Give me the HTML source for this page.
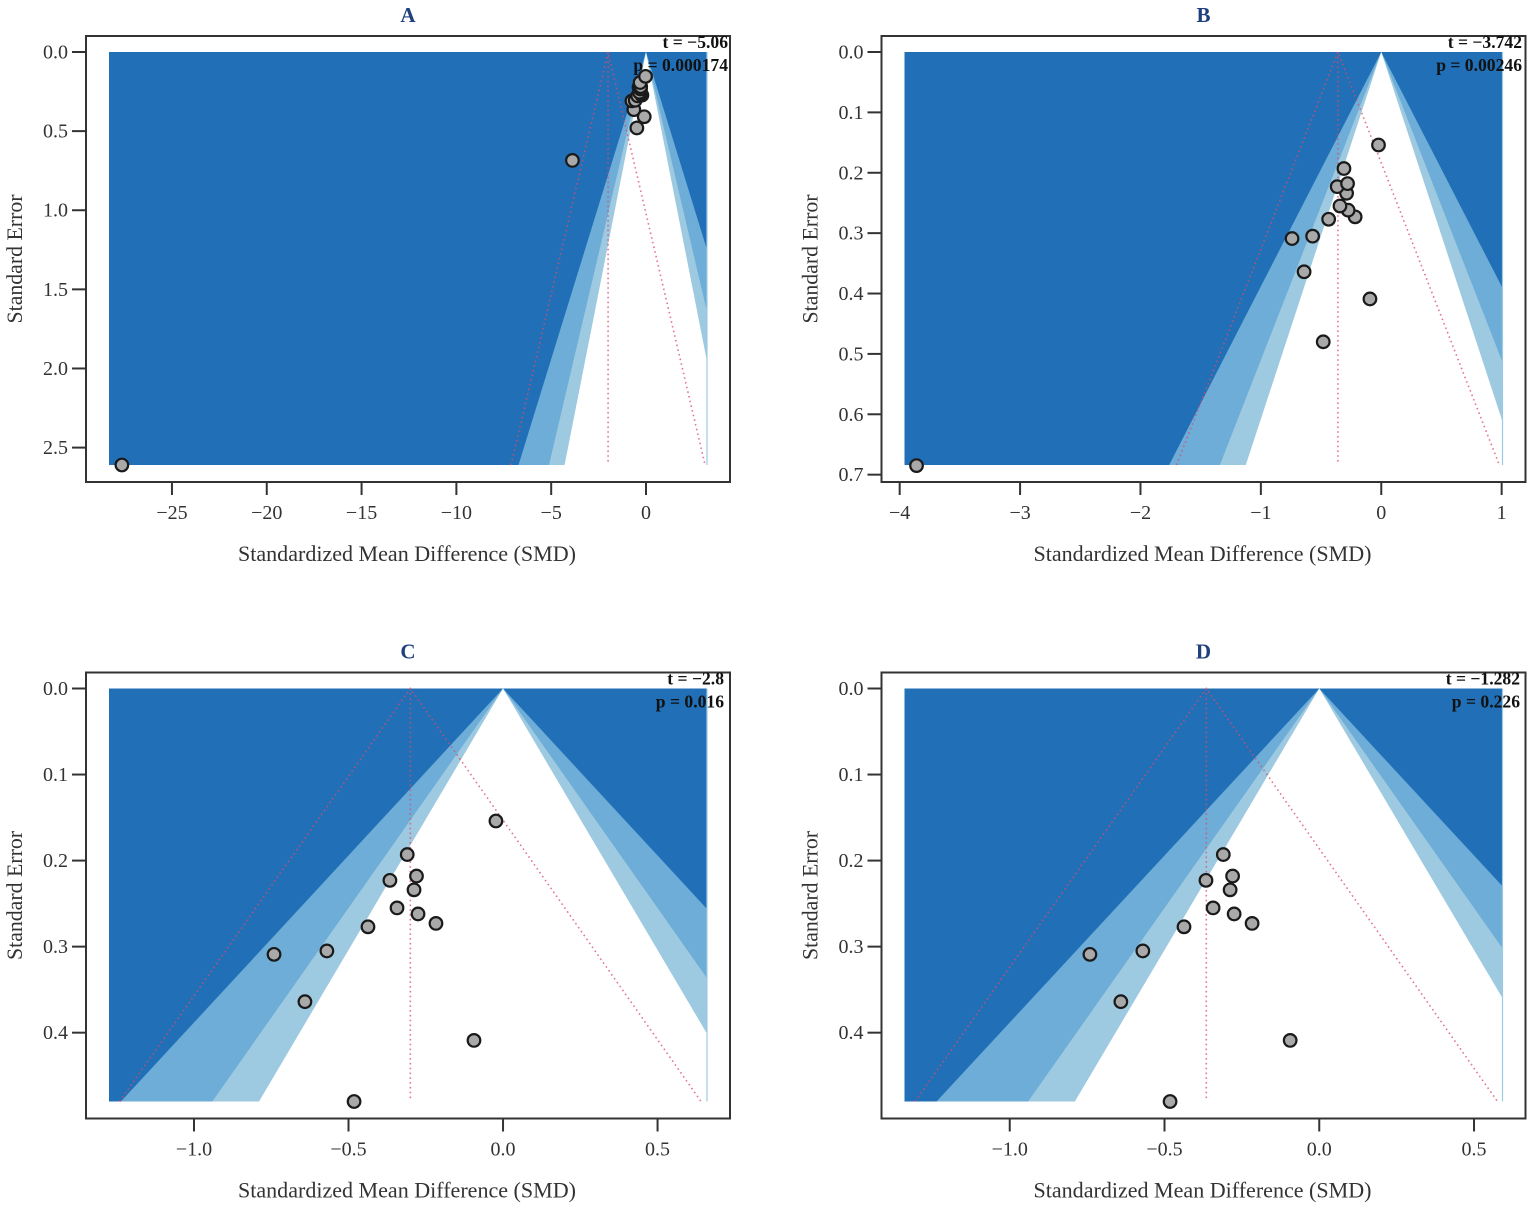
<!DOCTYPE html>
<html lang="en">
<head>
<meta charset="utf-8">
<title>Funnel plots A-D</title>
<style>
html,body{margin:0;padding:0;background:#fff;width:1535px;height:1209px;overflow:hidden}
svg{display:block}
text{font-family:"Liberation Serif",serif}
</style>
</head>
<body>
<svg id="figure" xmlns="http://www.w3.org/2000/svg" width="1535" height="1209" viewBox="0 0 1535 1209"></svg>
<script>
// ---- Chart data ----
const panelNames = ['A', 'B', 'C', 'D'];

const effectsA = [-27.64, -3.88, -0.482, -0.094, -0.641, -0.741, -0.57, -0.437, -0.217, -0.275, -0.343, -0.288, -0.366, -0.28, -0.31, -0.023];
const errorsA = [2.61, 0.685, 0.48, 0.409, 0.364, 0.309, 0.305, 0.277, 0.273, 0.262, 0.255, 0.234, 0.223, 0.218, 0.193, 0.154];

const effectsB = [-3.86, -0.482, -0.094, -0.641, -0.741, -0.57, -0.437, -0.217, -0.275, -0.343, -0.288, -0.366, -0.28, -0.31, -0.023];
const errorsB = [0.685, 0.48, 0.409, 0.364, 0.309, 0.305, 0.277, 0.273, 0.262, 0.255, 0.234, 0.223, 0.218, 0.193, 0.154];

const effectsC = [-0.482, -0.094, -0.641, -0.741, -0.57, -0.437, -0.217, -0.275, -0.343, -0.288, -0.366, -0.28, -0.31, -0.023];
const errorsC = [0.48, 0.409, 0.364, 0.309, 0.305, 0.277, 0.273, 0.262, 0.255, 0.234, 0.223, 0.218, 0.193, 0.154];

const effectsD = [-0.482, -0.094, -0.641, -0.741, -0.57, -0.437, -0.217, -0.275, -0.343, -0.288, -0.366, -0.28, -0.31];
const errorsD = [0.48, 0.409, 0.364, 0.309, 0.305, 0.277, 0.273, 0.262, 0.255, 0.234, 0.223, 0.218, 0.193];

const xTicksA = [-25, -20, -15, -10, -5, 0];
const xLabelsA = ['\u221225', '\u221220', '\u221215', '\u221210', '\u22125', '0'];
const yTicksA = [0, 0.5, 1, 1.5, 2, 2.5];
const yLabelsA = ['0.0', '0.5', '1.0', '1.5', '2.0', '2.5'];

const xTicksB = [-4, -3, -2, -1, 0, 1];
const xLabelsB = ['\u22124', '\u22123', '\u22122', '\u22121', '0', '1'];
const yTicksB = [0, 0.1, 0.2, 0.3, 0.4, 0.5, 0.6, 0.7];
const yLabelsB = ['0.0', '0.1', '0.2', '0.3', '0.4', '0.5', '0.6', '0.7'];

const xTicksCD = [-1, -0.5, 0, 0.5];
const xLabelsCD = ['\u22121.0', '\u22120.5', '0.0', '0.5'];
const yTicksCD = [0, 0.1, 0.2, 0.3, 0.4];
const yLabelsCD = ['0.0', '0.1', '0.2', '0.3', '0.4'];

const xDomainA = [-28.32, 3.217];
const xDomainB = [-3.96, 1.007];
const xDomainC = [-1.275, 0.66];
const xDomainD = [-1.34, 0.592];
const seMax = [2.61, 0.684, 0.48, 0.48];
const pooledEffects = [-2.0, -0.36, -0.3, -0.365];
const contourZ = [2.576, 1.96, 1.645];
const ciZ = 1.96;
const statT = ['t = \u22125.06', 't = \u22123.742', 't = \u22122.8', 't = \u22121.282'];
const statP = ['p = 0.000174', 'p = 0.00246', 'p = 0.016', 'p = 0.226'];

// ---- Appearance ----
const contourFills = ['#6dadd7', '#9ecae1', '#ffffff'];
const NS = 'http://www.w3.org/2000/svg';
const fig = document.getElementById('figure');

function svgEl(tag, attrs, parent, txt) {
  const el = document.createElementNS(NS, tag);
  for (const k in attrs) el.setAttribute(k, attrs[k]);
  if (txt !== undefined) el.textContent = txt;
  parent.appendChild(el);
  return el;
}

function drawPanel(i, effects, errors, xTicks, xLabels, yTicks, yLabels, xDomain, statRight) {
  const col = i % 2, row = i < 2 ? 0 : 1;
  const ox = col * 795.5, oy = row * 636.5;
  const frame = {l: 86 + ox, r: 730 + ox, t: 36 + oy, b: 482 + oy};
  const plot = {l: 109 + ox, r: 707 + ox, t: 52 + oy, b: 465 + oy};
  const sx = v => plot.l + (v - xDomain[0]) / (xDomain[1] - xDomain[0]) * (plot.r - plot.l);
  const sy = v => plot.t + v / seMax[i] * (plot.b - plot.t);
  const letter = panelNames[i].toLowerCase();
  const sem = seMax[i];

  const g = svgEl('g', {}, fig);
  
  

  const clip = svgEl('clipPath', {id: 'clip-' + letter}, g);
  svgEl('rect', {x: plot.l, y: plot.t, width: plot.r - plot.l, height: plot.b - plot.t}, clip);

  const title = svgEl('text', {x: 408 + ox, y: 22 + oy, 'text-anchor': 'middle', 'font-size': 21, 'font-weight': 'bold', fill: '#1f3f7f'}, g, panelNames[i]);
  
  

  const bg = svgEl('rect', {x: plot.l, y: plot.t, width: plot.r - plot.l, height: plot.b - plot.t, fill: '#2170b7'}, g);
  
  

  contourZ.forEach((z, k) => {
    const pts = [[0, 0], [-z * sem, sem], [z * sem, sem]].map(p => sx(p[0]) + ',' + sy(p[1])).join(' ');
    const poly = svgEl('polygon', {points: pts, fill: contourFills[k], 'clip-path': 'url(#clip-' + letter + ')'}, g);
    
    
  });

  const edge = svgEl('line', {x1: plot.r, x2: plot.r, y1: plot.t, y2: plot.b, stroke: '#9ecae1', 'stroke-width': 1.2}, g);
  
  

  const m = pooledEffects[i];
  const dotted = {stroke: '#dc4a68', 'stroke-width': 1.6, 'stroke-dasharray': '1.6 3.2', 'stroke-opacity': 0.75, fill: 'none'};
  const ciPts = [[m - ciZ * sem, sem], [m, 0], [m + ciZ * sem, sem]].map(p => sx(p[0]) + ',' + sy(p[1])).join(' ');
  const ci = svgEl('polyline', Object.assign({points: ciPts}, dotted), g);
  
  
  const pooled = svgEl('line', Object.assign({x1: sx(m), x2: sx(m), y1: sy(0), y2: sy(sem) - 3}, dotted), g);
  
  

  const box = svgEl('rect', {x: frame.l, y: frame.t, width: frame.r - frame.l, height: frame.b - frame.t, fill: 'none', stroke: '#333', 'stroke-width': 2}, g);
  
  

  xTicks.forEach((v, k) => {
    const t = svgEl('line', {x1: sx(v), x2: sx(v), y1: frame.b, y2: frame.b + 13, stroke: '#333', 'stroke-width': 2}, g);
    
    
    const l = svgEl('text', {x: sx(v), y: frame.b + 37, 'text-anchor': 'middle', 'font-size': 20, fill: '#333'}, g, xLabels[k]);
    
    
  });

  yTicks.forEach((v, k) => {
    const t = svgEl('line', {x1: frame.l - 14, x2: frame.l, y1: sy(v), y2: sy(v), stroke: '#333', 'stroke-width': 2}, g);
    
    
    const l = svgEl('text', {x: frame.l - 18, y: sy(v) + 6.5, 'text-anchor': 'end', 'font-size': 20, fill: '#333'}, g, yLabels[k]);
    
    
  });

  const xt = svgEl('text', {x: 407 + ox, y: 561 + oy, 'text-anchor': 'middle', 'font-size': 22, fill: '#333', textLength: 338, lengthAdjust: 'spacingAndGlyphs'}, g, 'Standardized Mean Difference (SMD)');
  
  

  const ycx = 22 + ox, ycy = 259 + oy;
  const yt = svgEl('text', {x: ycx, y: ycy, transform: 'rotate(-90 ' + ycx + ' ' + ycy + ')', 'text-anchor': 'middle', 'font-size': 22, fill: '#333', textLength: 129, lengthAdjust: 'spacingAndGlyphs'}, g, 'Standard Error');
  
  

  const st = svgEl('text', {x: statRight, y: 48 + oy, 'text-anchor': 'end', 'font-size': 17.6, 'font-weight': 'bold', fill: '#111'}, g, statT[i]);
  
  
  const sp = svgEl('text', {x: statRight, y: 71 + oy, 'text-anchor': 'end', 'font-size': 17.6, 'font-weight': 'bold', fill: '#111'}, g, statP[i]);
  
  

  effects.forEach((e, k) => {
    const c = svgEl('circle', {cx: sx(e), cy: sy(errors[k]), r: 6.3, fill: '#a9a9a9', stroke: '#1a1a1a', 'stroke-width': 2.2}, g);
    
    
  });
}

drawPanel(0, effectsA, errorsA, xTicksA, xLabelsA, yTicksA, yLabelsA, xDomainA, 728);
drawPanel(1, effectsB, errorsB, xTicksB, xLabelsB, yTicksB, yLabelsB, xDomainB, 1522);
drawPanel(2, effectsC, errorsC, xTicksCD, xLabelsCD, yTicksCD, yLabelsCD, xDomainC, 724);
drawPanel(3, effectsD, errorsD, xTicksCD, xLabelsCD, yTicksCD, yLabelsCD, xDomainD, 1520);
</script>
</body>
</html>
